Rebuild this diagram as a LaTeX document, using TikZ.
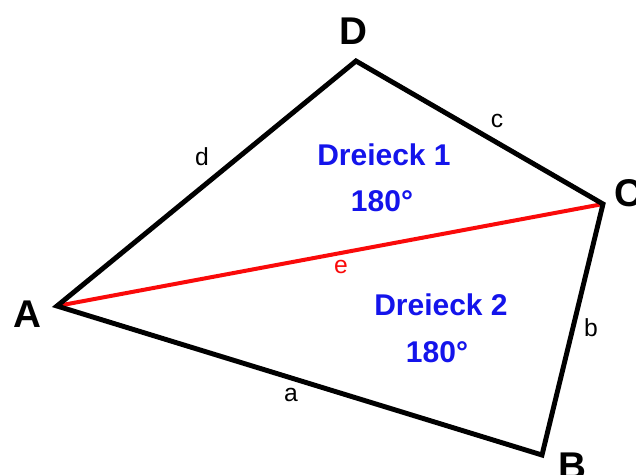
\documentclass[tikz,border=0pt]{standalone}
\usepackage{fontspec}
\setmainfont{Liberation Sans}
\usetikzlibrary{positioning}
\definecolor{vkblue}{RGB}{20,20,235}
\definecolor{vkred}{RGB}{250,10,10}
\tikzset{
  vkside/.style={draw=black, line width=3.7pt, line join=miter},
  vkdiag/.style={draw=vkred, line width=3pt},
  vkcorner/.style={font=\fontsize{29}{32}\selectfont\bfseries, inner sep=0pt},
  vkside lbl/.style={font=\fontsize{18.5}{21}\selectfont, inner sep=0pt},
  vkarea/.style={font=\fontsize{22.5}{26}\selectfont\bfseries, text=vkblue,
    align=center, inner sep=0pt},
}

\begin{document}
\begin{tikzpicture}[x=0.75pt, y=-0.75pt]
    \useasboundingbox (0,0) rectangle (636,475);

    % Ecken
    \coordinate (A) at (57,306);
    \coordinate (B) at (542,455);
    \coordinate (C) at (603,204);
    \coordinate (D) at (356,61);

    \node[vkcorner] (lA) at (27,314) {A};
    \node[vkcorner] (lB) at (572,466) {B};
    \node[vkcorner] (lC) at (628,193) {C};
    \node[vkcorner] (lD) at (353,31) {D};

    % Viereck und Diagonale
    \draw[vkdiag] (A) -- (C);
    \draw[vkside] (A) -- (B) -- (C) -- (D) -- cycle;

    % Seiten
    \node[vkside lbl] (sa) at (291,395) {a};
    \node[vkside lbl] (sb) at (591,328) {b};
    \node[vkside lbl] (sc) at (497,121) {c};
    \node[vkside lbl] (sd) at (202,157) {d};
    \node[vkside lbl, text=vkred] (se) at (341,267) {e};

    % Dreiecke
    \node[vkarea] (t1) at (384,155) {Dreieck 1};
    \node[vkarea] (w1) at (382,201) {180°};
    \node[vkarea] (t2) at (441,305) {Dreieck 2};
    \node[vkarea] (w2) at (437,352) {180°};
  \end{tikzpicture}
\end{document}
